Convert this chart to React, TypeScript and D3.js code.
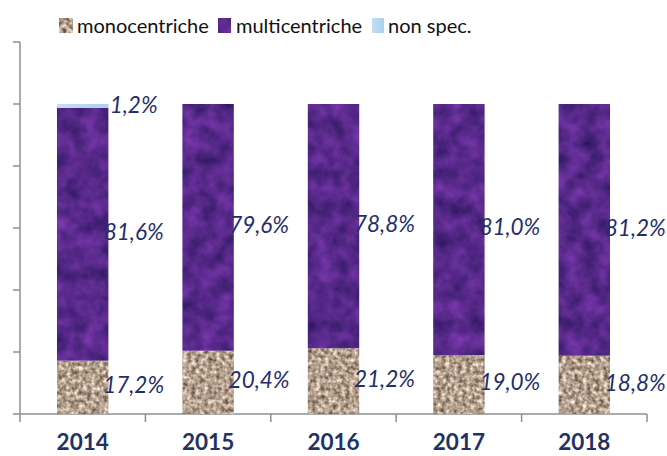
import * as d3 from 'd3';

const years = ['2014', '2015', '2016', '2017', '2018'];
const mono = [17.2, 20.4, 21.2, 19.0, 18.8];
const multi = [81.6, 79.6, 78.8, 81.0, 81.2];
const nonSpec = [1.2, 0, 0, 0, 0];
const yTicks = [0, 20, 40, 60, 80, 100, 120];
const legendLabels = ['monocentriche', 'multicentriche', 'non spec.'];

const fmt = (v: number) => v.toFixed(1).replace('.', ',') + '%';

const width = 667;
const height = 456;
const font = 'Lato, "Open Sans", sans-serif';
const labelColor = '#1f2e6a';
const axisColor = '#8f8f8f';

export default function App() {
  const x = d3.scaleBand<string>().domain(years).range([20, 647]).padding(0);
  const y = d3.scaleLinear().domain([0, 120]).range([414, 42]);
  const barW = x.bandwidth() * 0.41;

  const rows = years.map((yr, i) => {
    const m0 = 0;
    const m1 = mono[i];
    const u1 = m1 + multi[i];
    const n1 = u1 + nonSpec[i];
    return { yr, i, m0, m1, u1, n1 };
  });

  const legendSw = [59, 218, 372];
  const legendTx = [77, 236, 388];

  return (
    <svg width={width} height={height} style={{ position: 'absolute', left: 0, top: 0 }}>
      <defs>
        <filter id="monoTex" x="0" y="0" width="100%" height="100%" colorInterpolationFilters="sRGB">
          <feTurbulence type="fractalNoise" baseFrequency="0.24" numOctaves="2" seed="3" />
          <feColorMatrix
            type="matrix"
            values="0.95 0 0 0 0.23  0.95 0 0 0 0.15  0.95 0 0 0 0.08  0 0 0 0 1"
          />
          <feComposite in2="SourceGraphic" operator="in" />
        </filter>
        <filter id="multiTex" x="0" y="0" width="100%" height="100%" colorInterpolationFilters="sRGB">
          <feTurbulence type="fractalNoise" baseFrequency="0.06" numOctaves="3" seed="7" />
          <feColorMatrix
            type="matrix"
            values="0.38 0 0 0 0.15  0.16 0 0 0 0.08  0.38 0 0 0 0.35  0 0 0 0 1"
          />
          <feComposite in2="SourceGraphic" operator="in" />
        </filter>
        <linearGradient id="nsG" x1="0" y1="0" x2="1" y2="0">
          <stop offset="0%" stopColor="#c9dcf2" />
          <stop offset="100%" stopColor="#a6d3ef" />
        </linearGradient>
      </defs>

      {/* axes */}
      <line x1={20} x2={20} y1={y(120)} y2={y(0)} stroke={axisColor} strokeWidth={1.5} />
      {yTicks.map((t) => (
        <line key={t} x1={13} x2={20} y1={y(t)} y2={y(t)} stroke={axisColor} strokeWidth={1.5} />
      ))}
      <line x1={20} x2={647} y1={y(0)} y2={y(0)} stroke={axisColor} strokeWidth={1.5} />
      {[...years.map((yr) => x(yr) as number), 647].map((px, k) => (
        <line key={k} x1={px} x2={px} y1={y(0)} y2={y(0) + 8} stroke={axisColor} strokeWidth={1.5} />
      ))}

      {/* bars */}
      {rows.map((r) => {
        const cx = (x(r.yr) as number) + x.bandwidth() / 2;
        const bx = cx - barW / 2;
        return (
          <g key={r.yr}>
            <rect x={bx} y={y(r.m1)} width={barW} height={y(r.m0) - y(r.m1)} fill="#b6a391" filter="url(#monoTex)" />
            <rect x={bx} y={y(r.u1)} width={barW} height={y(r.m1) - y(r.u1)} fill="#5a2a88" filter="url(#multiTex)" />
            {nonSpec[r.i] > 0 && (
              <rect x={bx} y={y(r.n1)} width={barW} height={y(r.u1) - y(r.n1)} fill="url(#nsG)" />
            )}
            <g fontFamily={font} fontStyle="italic" fontSize={22.5} fill={labelColor} textAnchor="middle">
              <text x={cx + 51} y={(y(r.m0) + y(r.m1)) / 2 - 2} dy="0.35em">{fmt(mono[r.i])}</text>
              <text x={cx + 51} y={(y(r.m1) + y(r.u1)) / 2 - 2} dy="0.35em">{fmt(multi[r.i])}</text>
              {nonSpec[r.i] > 0 && (
                <text x={cx + 51} y={(y(r.u1) + y(r.n1)) / 2 - 1} dy="0.35em">{fmt(nonSpec[r.i])}</text>
              )}
            </g>
            <text x={cx} y={450} fontFamily={font} fontWeight="bold" fontSize={22.5} fill="#1f3264" textAnchor="middle">
              {r.yr}
            </text>
          </g>
        );
      })}

      {/* legend */}
      {legendLabels.map((lab, k) => (
        <g key={lab}>
          {k === 0 && <rect x={legendSw[k]} y={18} width={14} height={15} fill="#b6a391" filter="url(#monoTex)" />}
          {k === 1 && <rect x={legendSw[k]} y={18} width={13} height={15} fill="#5a2a88" filter="url(#multiTex)" />}
          {k === 2 && <rect x={legendSw[k]} y={18} width={12} height={15} fill="url(#nsG)" />}
          <text x={legendTx[k]} y={33} fontFamily={font} fontSize={20} fill="#111">
            {lab}
          </text>
        </g>
      ))}
    </svg>
  );
}
